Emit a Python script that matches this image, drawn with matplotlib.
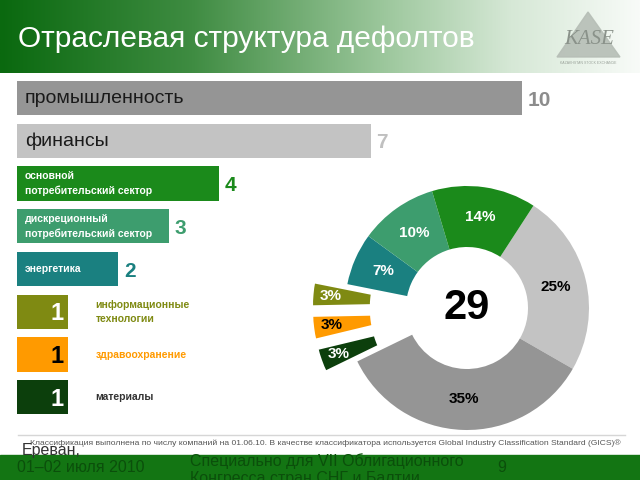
import numpy as np
import matplotlib
matplotlib.use('Agg')
import matplotlib.pyplot as plt
from matplotlib.colors import LinearSegmentedColormap
from matplotlib.patches import Polygon, Rectangle

plt.rcParams['font.family'] = ['Liberation Sans', 'DejaVu Sans']

# данные: отрасли и число дефолтов
sectors = ['промышленность', 'финансы',
           'основной\nпотребительский сектор', 'дискреционный\nпотребительский сектор',
           'энергетика', 'информационные\nтехнологии', 'здравоохранение', 'материалы']
counts = [10, 7, 4, 3, 2, 1, 1, 1]
colors = ['#959595', '#c3c3c3', '#1b8a1b', '#3d9d6e', '#1a8080', '#7f8a12', '#ff9a00', '#0c3f0c']
value_colors = ['#8c8c8c', '#c0c0c0', '#1b8a1b', '#3d9d6e', '#1a8080', 'white', 'black', 'white']
side_colors = ['', '', '', '', '', '#7f8a12', '#ff9a00', '#333333']

# порядок секторов в кольце (по часовой стрелке)
ring_order = [1, 0, 7, 6, 5, 4, 3, 2]
ring_labels = ['25%', '35%', '3%', '3%', '3%', '7%', '10%', '14%']
ring_text_colors = ['black', 'black', 'white', 'black', 'white', 'white', 'white', 'white']
total = sum(counts)

fig = plt.figure(figsize=(6.4, 4.8), dpi=100)

# фон слайда (пиксельные координаты)
bg = fig.add_axes([0, 0, 1, 1])
grad = np.linspace(0, 1, 256).reshape(1, -1)
cmap = LinearSegmentedColormap.from_list('banner', [(0, '#0a690f'), (0.3, '#3f8c42'),
                                                    (0.6, '#9cc79c'), (0.8, '#d6e8d6'),
                                                    (1, '#f8fbf8')])
bg.imshow(grad, extent=[0, 640, 73, 0], aspect='auto', cmap=cmap)
bg.text(18, 39, 'Отраслевая структура дефолтов', color='white', fontsize=21.5, va='center')

# логотип
bg.add_patch(Polygon([(557, 57), (620, 57), (588, 12)], closed=True, color='#b6beb6', alpha=0.9))
bg.text(589, 40, 'KASE', fontsize=15, color='#8a928a', ha='center', va='center',
        fontstyle='italic', family=['Liberation Serif', 'DejaVu Serif'])
bg.text(588, 63, 'KAZAKHSTAN STOCK EXCHANGE', fontsize=2.5, color='#9aa29a', ha='center', va='center')

# подвал
bg.plot([18, 625], [435, 435], color='#d6d6d6', lw=1)
bg.add_patch(Rectangle((0, 455), 640, 25, color='#137513'))
bg.text(30, 443, 'Классификация выполнена по числу компаний на 01.06.10. В качестве классификатора '
        'используется Global Industry Classification Standard (GICS)®',
        fontsize=6.1, color='#555555', va='center')
band_text = '#0b4f0b'
bg.text(22, 450, 'Ереван,', fontsize=11.5, color='#333333', va='center')
bg.text(17, 468, '01–02 июля 2010', fontsize=11.5, color=band_text, va='center')
bg.text(190, 461, 'Специально для VII Облигационного', fontsize=11.5, color=band_text, va='center')
bg.text(190, 479, 'Конгресса стран СНГ и Балтии', fontsize=11.5, color=band_text, va='center')
bg.text(497, 468, '9', fontsize=11.5, color=band_text, va='center')
bg.set_xlim(0, 640)
bg.set_ylim(480, 0)
bg.axis('off')

# горизонтальные столбцы
ax = fig.add_axes([17 / 640, (480 - 418.7) / 480, 505 / 640, 342 / 480])
y = np.arange(len(counts))
ax.barh(y, counts, height=0.8, color=colors)
ax.set_xlim(0, 10)
ax.set_ylim(7.5, -0.5)
ax.axis('off')

for i, (name, c) in enumerate(zip(sectors, counts)):
    if i < 2:
        ax.text(0.16, i, name, color='#1a1a1a', fontsize=14, va='center')
        ax.text(c + 0.12, i + 0.05, str(c), color=value_colors[i], fontsize=15,
                fontweight='bold', va='center')
    elif i < 5:
        ax.text(0.16, i, name, color='white', fontsize=7.5, fontweight='bold', va='center',
                linespacing=1.5)
        ax.text(c + 0.12, i + 0.05, str(c), color=value_colors[i], fontsize=15,
                fontweight='bold', va='center')
    else:
        ax.text(c - 0.08, i + 0.05, str(c), color=value_colors[i], fontsize=17,
                fontweight='bold', va='center', ha='right')
        ax.text(1.55, i, name, color=side_colors[i], fontsize=7.5, fontweight='bold',
                va='center', linespacing=1.5)

# кольцевая диаграмма
r_px = 122
size = 2.8 * r_px
pax = fig.add_axes([(467 - size / 2) / 640, (172 - size / 2) / 480, size / 640, size / 480])
ring_vals = [counts[k] for k in ring_order]
ring_cols = [colors[k] for k in ring_order]
explode = [0.28 if counts[k] == 1 else 0 for k in ring_order]
label_iter = iter(ring_labels)
wedges, _, pcts = pax.pie(ring_vals, colors=ring_cols, explode=explode, startangle=57,
                          counterclock=False, radius=1, pctdistance=0.75,
                          autopct=lambda p: next(label_iter),
                          wedgeprops=dict(width=0.5, linewidth=0))
for w, t, e in zip(wedges, pcts, explode):
    if e:
        w.set_edgecolor('white')
        w.set_linewidth(3)
        # подпись ближе к внешнему краю вынесенного сектора
        ang = np.deg2rad((w.theta1 + w.theta2) / 2)
        cx, cy = w.center
        t.set_position((cx + 0.84 * np.cos(ang), cy + 0.84 * np.sin(ang)))
for t, col in zip(pcts, ring_text_colors):
    t.set_color(col)
    t.set_fontsize(11)
    t.set_fontweight('bold')
pax.text(0, 0, str(total), fontsize=30, fontweight='bold', ha='center', va='center')
pax.set_xlim(-1.4, 1.4)
pax.set_ylim(-1.4, 1.4)
pax.set_aspect('equal')

fig.savefig('out.png', dpi=100)
